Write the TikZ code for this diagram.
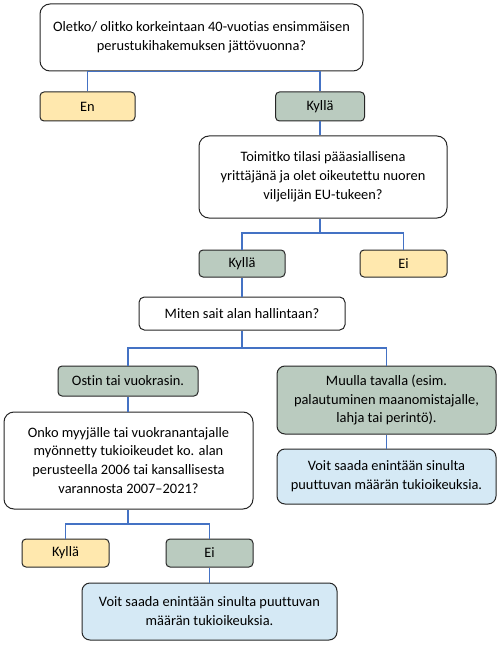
\documentclass[tikz,border=0pt]{standalone}
\usepackage{fontspec}
\setmainfont{Carlito}[Ligatures={NoCommon}]
\begin{document}
\begin{tikzpicture}[x=0.75pt,y=-0.75pt,
  every node/.style={font=\fontsize{10.8pt}{14.2pt}\selectfont, align=center, inner sep=0pt, draw=black!85, line width=0.75pt},
  qbox/.style={fill=white, rounded corners=7.5pt},
  ybox/.style={fill=yellowf, rounded corners=3pt},
  gbox/.style={fill=greenf, rounded corners=3pt},
  gbig/.style={fill=greenf, rounded corners=6pt},
  bbox/.style={fill=bluef, rounded corners=6pt},
  wbox/.style={fill=white, rounded corners=4pt},
  conn/.style={draw=linkblue, line width=0.85pt},
  sz/.style 2 args={minimum width=#1*0.75pt, minimum height=#2*0.75pt}]
\definecolor{yellowf}{HTML}{FFE8AE}
\definecolor{greenf}{HTML}{BACBBF}
\definecolor{bluef}{HTML}{D5E9F5}
\definecolor{linkblue}{HTML}{4472C4}
\useasboundingbox (0,0) rectangle (500,645);

\node[qbox, sz={323}{67}] (q1) at (201.5,37.5) {Oletko/ olitko korkeintaan 40-vuotias ensimmäisen\\perustukihakemuksen jättövuonna?};
\node[ybox, sz={95}{29}] (en) at (87.5,106.5) {En};
\node[gbox, sz={89}{29}] (k1) at (320,106.5) {Kyllä};
\node[qbox, sz={248}{82}] (q2) at (323,177) {Toimitko tilasi pääasiallisena\\yrittäjänä ja olet oikeutettu nuoren\\viljelijän EU-tukeen?};
\node[gbox, sz={86}{27}] (k2) at (242,263.5) {Kyllä};
\node[ybox, sz={87}{27}] (ei1) at (403.5,263.5) {Ei};
\node[wbox, sz={206}{33}] (q3) at (242,313.5) {Miten sait alan hallintaan?};
\node[gbox, sz={140}{30}] (ostin) at (128,381) {Ostin tai vuokrasin.};
\node[gbig, sz={219}{68}] (muu) at (386.5,400) {Muulla tavalla (esim.\\palautuminen maanomistajalle,\\lahja tai perintö).};
\node[qbox, sz={249}{97}] (q4) at (128.5,460.5) {Onko myyjälle tai vuokranantajalle\\myönnetty tukioikeudet ko. alan\\perusteella 2006 tai kansallisesta\\varannosta 2007–2021?};
\node[bbox, sz={219}{55}] (v1) at (386.5,476.5) {Voit saada enintään sinulta\\puuttuvan määrän tukioikeuksia.};
\node[ybox, sz={87}{28}] (k3) at (65.5,553) {Kyllä};
\node[gbox, sz={87}{28}] (ei2) at (209.5,553) {Ei};
\node[bbox, sz={255}{57}] (v2) at (209.5,611.5) {Voit saada enintään sinulta puuttuvan\\määrän tukioikeuksia.};

\coordinate (j2) at (320,233);
\coordinate (j3) at (242,348);
\coordinate (j4) at (128,524);

\draw[conn] (en.north) |- (k1.north |- q1.south) -- (k1.north);
\draw[conn] (k1.south) -- (k1.south |- q2.north);
\draw[conn] (k1.south |- q2.south) -- (j2);
\draw[conn] (k2.north) |- (j2);
\draw[conn] (ei1.north) |- (j2);
\draw[conn] (k2.south) -- (q3.north);
\draw[conn] (q3.south) -- (j3);
\draw[conn] (ostin.north) |- (j3);
\draw[conn] (muu.north) |- (j3);
\draw[conn] (ostin.south) -- (ostin.south |- q4.north);
\draw[conn] (muu.south) -- (v1.north);
\draw[conn] (j4 |- q4.south) -- (j4);
\draw[conn] (k3.north) |- (j4);
\draw[conn] (ei2.north) |- (j4);
\draw[conn] (ei2.south) -- (v2.north);
\end{tikzpicture}
\end{document}
